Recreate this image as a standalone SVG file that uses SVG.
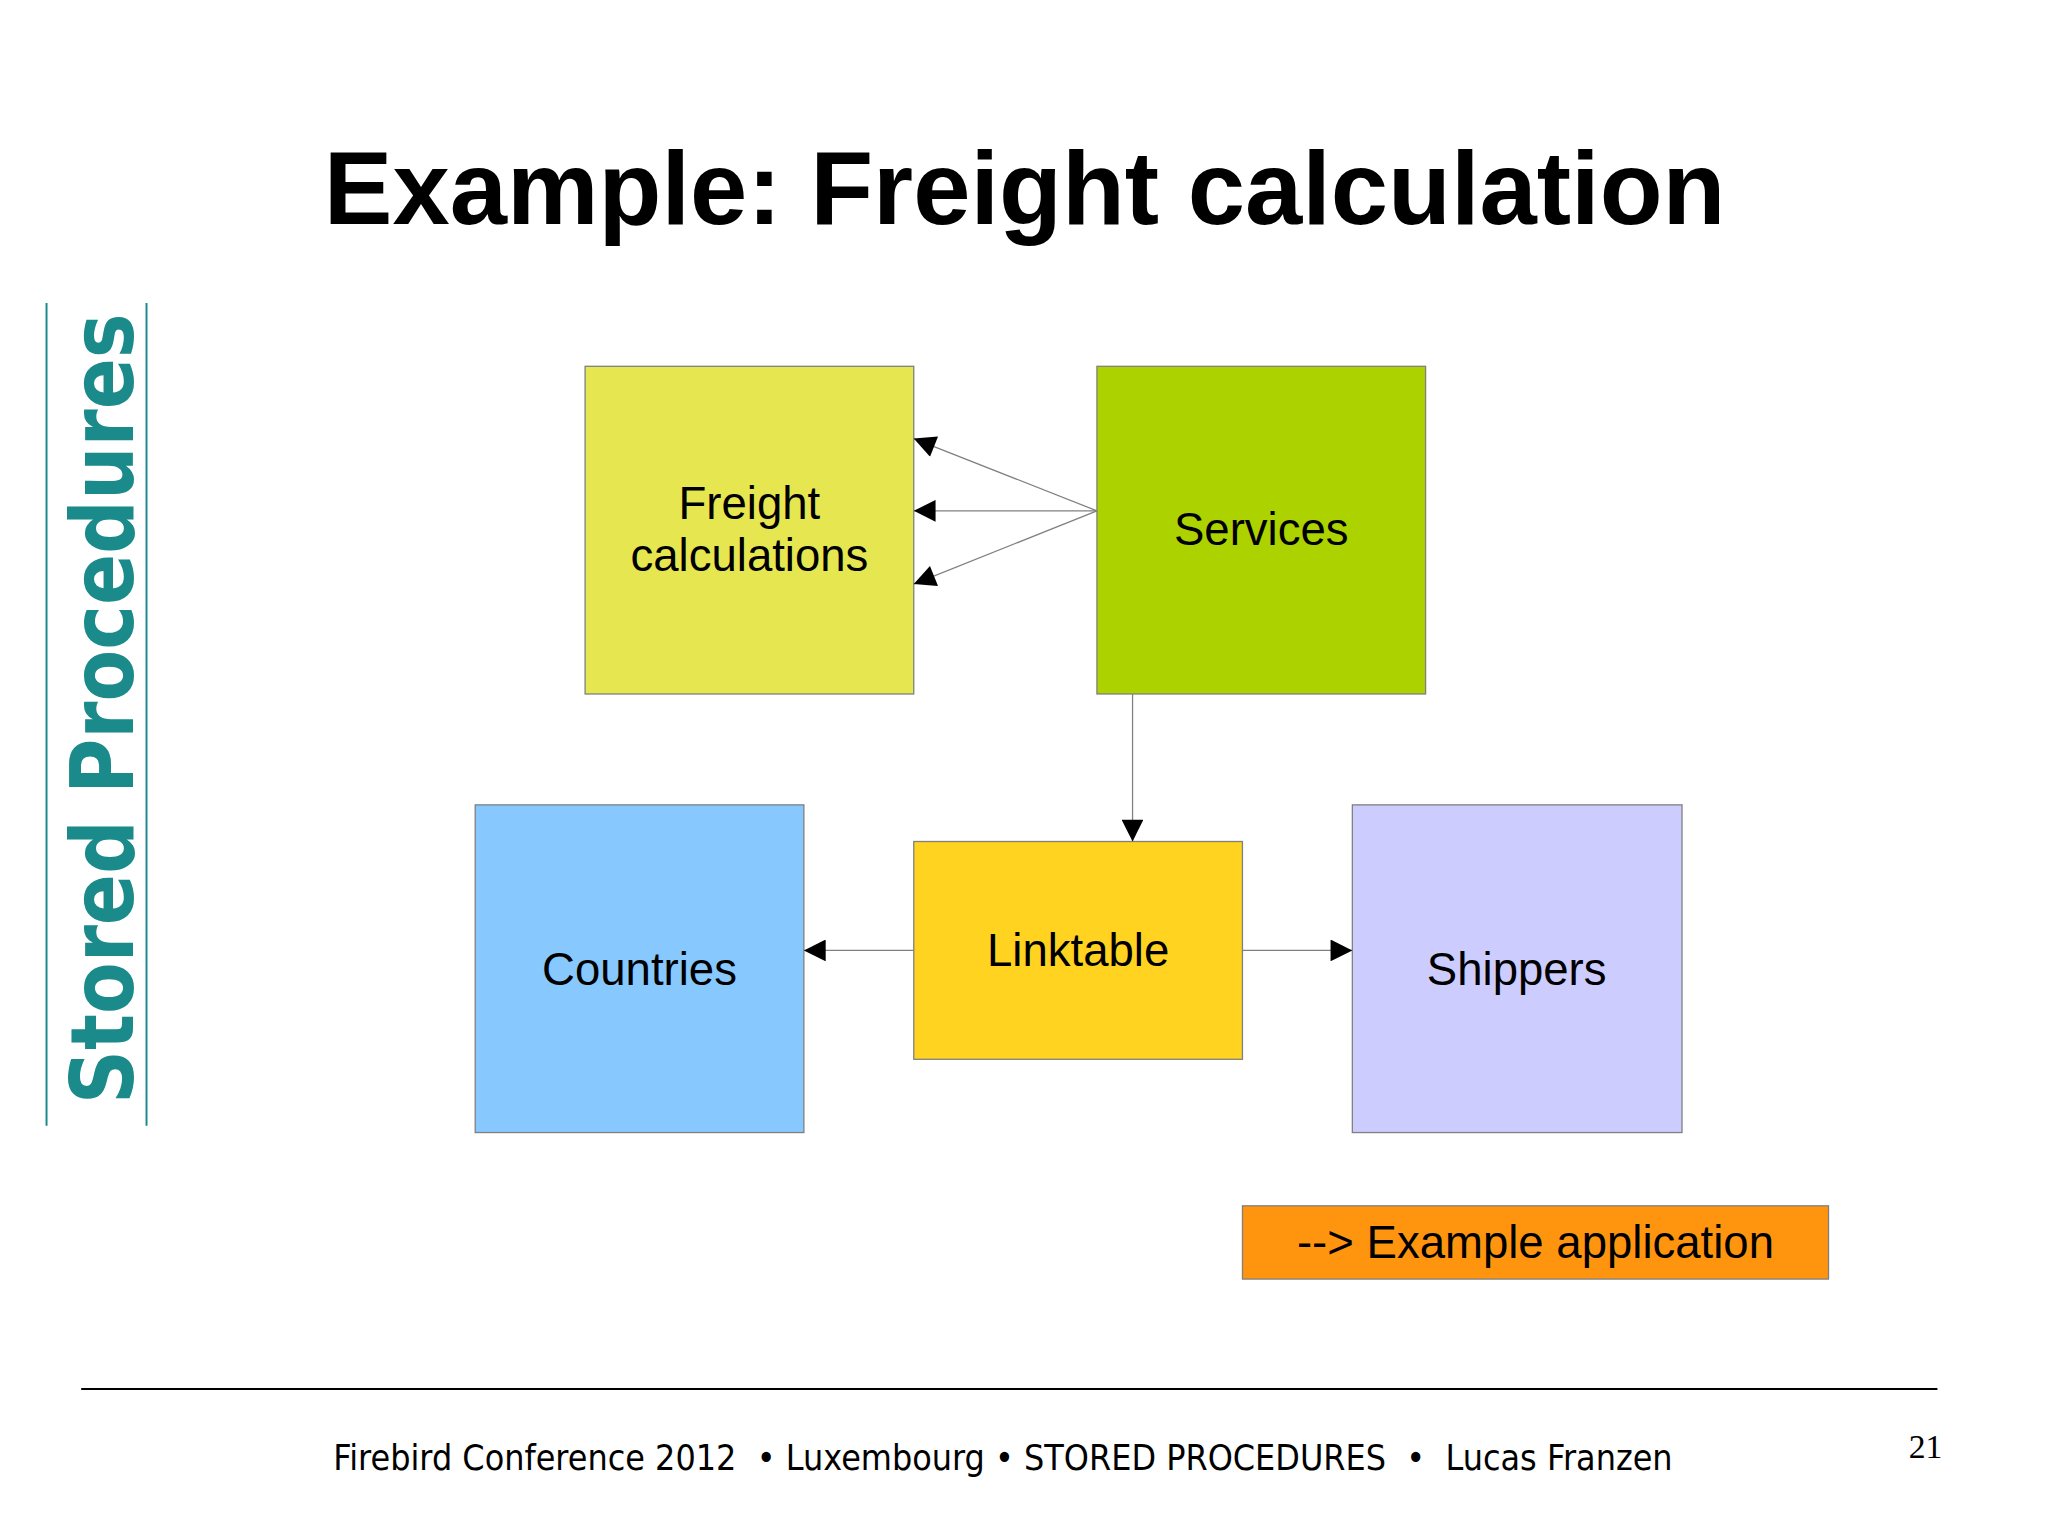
<svg xmlns="http://www.w3.org/2000/svg" width="2048" height="1535" viewBox="0 0 2048 1535">
<style>
.box{stroke:#7f7f7f;stroke-width:1.3}
.lbl{font-family:"Liberation Sans",Arial,sans-serif;font-size:46px;fill:#000;text-anchor:middle}
.con{stroke:#808080;stroke-width:1.3;fill:none;marker-end:url(#ah)}
</style>
<defs><marker id="ah" viewBox="0 0 10 10" refX="10" refY="5" markerWidth="32" markerHeight="22" markerUnits="userSpaceOnUse" orient="auto"><path d="M0,0L10,5L0,10z" fill="#000"/></marker></defs>
<rect width="2048" height="1535" fill="#fff"/>
<g transform="scale(0.99)">
<text x="1035" y="226" font-family="Liberation Sans,Arial,sans-serif" font-weight="bold" font-size="104" text-anchor="middle">Example: Freight calculation</text>
<g id="side">
<line x1="47" y1="306" x2="47" y2="1137" stroke="#1a8a8a" stroke-width="2"/>
<line x1="148" y1="306" x2="148" y2="1137" stroke="#1a8a8a" stroke-width="2"/>
<text transform="translate(134,716) rotate(-90)" font-family="DejaVu Sans,sans-serif" font-weight="bold" font-size="88" fill="#1a8a8a" text-anchor="middle" textLength="799" lengthAdjust="spacingAndGlyphs">Stored Procedures</text>
</g>
<g id="freight"><rect class="box" x="591" y="370" width="332" height="331" fill="#e6e650"/><text class="lbl" x="757" y="524">Freight</text><text class="lbl" x="757" y="577">calculations</text></g>
<g id="services"><rect class="box" x="1108" y="370" width="332" height="331" fill="#acd200"/><text class="lbl" x="1274" y="551">Services</text></g>
<g id="countries"><rect class="box" x="480" y="813" width="332" height="331" fill="#87c8ff"/><text class="lbl" x="646" y="995">Countries</text></g>
<g id="linktable"><rect class="box" x="923" y="850" width="332" height="220" fill="#ffd320"/><text class="lbl" x="1089" y="976">Linktable</text></g>
<g id="shippers"><rect class="box" x="1366" y="813" width="333" height="331" fill="#ccccff"/><text class="lbl" x="1532" y="995">Shippers</text></g>
<g id="example"><rect class="box" x="1255" y="1218" width="592" height="74" fill="#ff950e"/><text class="lbl" x="1551" y="1271">--&gt; Example application</text></g>
<g id="connectors">
<path class="con" d="M1108,516L923,443"/>
<path class="con" d="M1108,516L923,516"/>
<path class="con" d="M1108,516L923,590"/>
<path class="con" d="M1144,701L1144,850"/>
<path class="con" d="M923,960L812,960"/>
<path class="con" d="M1255,960L1366,960"/>
</g>
<line x1="82" y1="1403" x2="1957" y2="1403" stroke="#000" stroke-width="2"/>
<text x="1013" y="1485" xml:space="preserve" font-family="DejaVu Sans,sans-serif" font-size="35" text-anchor="middle" textLength="1353" lengthAdjust="spacingAndGlyphs">Firebird Conference 2012  • Luxembourg • STORED PROCEDURES  •  Lucas Franzen</text>
<text x="1945" y="1473" font-family="Liberation Serif,serif" font-size="34" text-anchor="middle">21</text>
</g>
</svg>
